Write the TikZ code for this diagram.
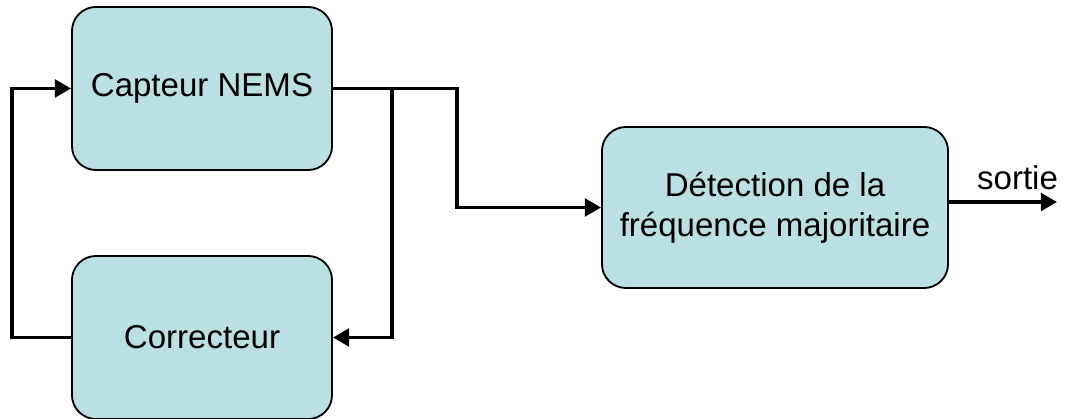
\documentclass[tikz,border=0pt]{standalone}
\usepackage{fontspec}
\setmainfont{Liberation Sans}
\usetikzlibrary{arrows.meta}

\definecolor{boxfill}{RGB}{187,224,227}

\tikzset{
  block/.style = {draw, line width=1.3pt, fill=boxfill, rounded corners=0.6cm,
                  align=center, font=\fontsize{23.5}{28.5}\selectfont},
  link/.style = {line width=2.6pt, -{Triangle[length=11.5pt,width=12.5pt]}}
}

\begin{document}
\begin{tikzpicture}[x=0.025cm, y=0.025cm]

\useasboundingbox (0,0) rectangle (1069,419);

\node[block, minimum width=6.5cm, minimum height=4.075cm] (capteur) at (202,330.5) {Capteur NEMS};
\node[block, minimum width=6.5cm, minimum height=4.075cm] (correcteur) at (202,81.5) {Correcteur};
\node[block, minimum width=8.65cm, minimum height=4.025cm] (detection) at (775,211.5) {D\'etection de la\\fr\'equence majoritaire};

\coordinate (split) at (392,330.5);
\coordinate (sortie) at (1057,217);

\draw[link] (capteur.east) -- (457,330.5) |- (detection.west);
\draw[link] (split) |- (correcteur.east);
\draw[link] (correcteur.west) -- (12,81.5) |- (capteur.west);

\draw[link] (detection.east |- sortie) -- (sortie);
\node[font=\fontsize{23.5}{28.5}\selectfont, anchor=south east, inner sep=2pt] (sortielabel) at (1061,226) {sortie};

\end{tikzpicture}
\end{document}
